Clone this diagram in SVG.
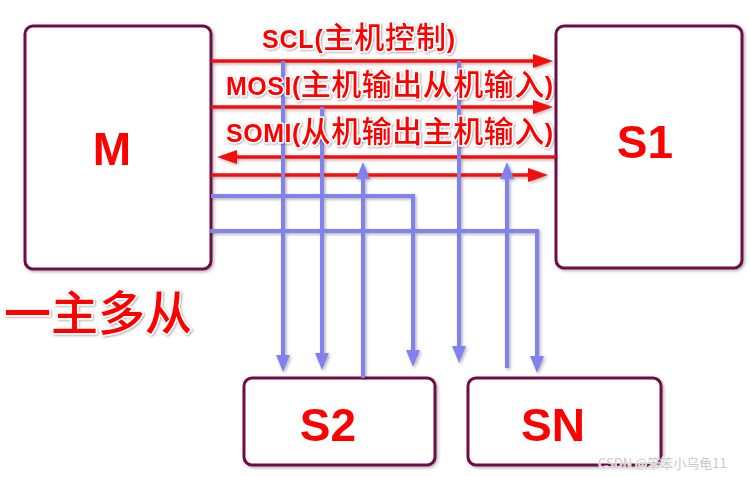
<svg xmlns="http://www.w3.org/2000/svg" width="750" height="477" viewBox="0 0 750 477">
<style>
.box{fill:#fff;stroke:#6e0f48;stroke-width:3}
.lbl{font-family:"Liberation Sans",Arial,sans-serif;font-weight:bold;fill:#f00;stroke:#fff;stroke-width:3;paint-order:stroke;stroke-linejoin:round}
.cjk{font-family:"Noto Sans CJK SC",sans-serif;font-weight:500}
.red{fill:none;stroke:#f41010;stroke-width:3.5}
.blue{fill:none;stroke:#8282ef;stroke-width:4}
.wm{font-family:"Noto Sans CJK SC","Liberation Sans",sans-serif;font-size:13px;fill:#c8c8c8;stroke:#fff;stroke-width:1;paint-order:stroke}
</style>
<defs>
<filter id="sh" x="-20%" y="-20%" width="140%" height="140%"><feDropShadow dx="1.5" dy="1.5" stdDeviation="1.5" flood-color="#000" flood-opacity="0.3"/></filter>
<filter id="tsh" x="-10%" y="-20%" width="120%" height="140%"><feDropShadow dx="1" dy="1" stdDeviation="1" flood-color="#000" flood-opacity="0.35"/></filter>
<marker id="ra" markerUnits="userSpaceOnUse" markerWidth="20" markerHeight="14" refX="14" refY="7" orient="auto"><path d="M0,0 L20,7 L0,14 z" fill="#f41010"/></marker>
<marker id="ba" markerUnits="userSpaceOnUse" markerWidth="17" markerHeight="14" refX="12" refY="7" orient="auto"><path d="M0,0 L17,7 L0,14 z" fill="#8282ef"/></marker>
</defs>
<rect width="750" height="477" fill="#fff"/>
<g id="M" filter="url(#sh)"><rect class="box" x="25" y="26" width="186" height="243" rx="8"/><text class="lbl" x="112" y="165" font-size="46" text-anchor="middle">M</text></g>
<g id="S1" filter="url(#sh)"><rect class="box" x="556" y="26" width="186" height="242" rx="8"/><text class="lbl" x="645" y="158" font-size="46" text-anchor="middle">S1</text></g>
<g id="S2" filter="url(#sh)"><rect class="box" x="244" y="378" width="191" height="87" rx="8"/><text class="lbl" x="328" y="441" font-size="46" text-anchor="middle">S2</text></g>
<g id="SN" filter="url(#sh)"><rect class="box" x="468" y="378" width="193" height="87" rx="8"/><text class="lbl" x="553" y="441" font-size="46" text-anchor="middle">SN</text></g>
<g id="connectors" filter="url(#sh)">
<line class="red" x1="211" y1="61" x2="547" y2="61" marker-end="url(#ra)"/>
<line class="red" x1="211" y1="107" x2="547" y2="107" marker-end="url(#ra)"/>
<line class="red" x1="556" y1="157" x2="223" y2="157" marker-end="url(#ra)"/>
<line class="red" x1="211" y1="175" x2="542" y2="175" marker-end="url(#ra)"/>
<line class="blue" x1="283" y1="61" x2="283" y2="367" marker-end="url(#ba)"/>
<line class="blue" x1="322" y1="107" x2="322" y2="365" marker-end="url(#ba)"/>
<line class="blue" x1="363" y1="378" x2="363" y2="167" marker-end="url(#ba)"/>
<polyline class="blue" points="211,196 413,196 413,362" marker-end="url(#ba)"/>
<line class="blue" x1="459" y1="61" x2="459" y2="358" marker-end="url(#ba)"/>
<line class="blue" x1="507" y1="368" x2="507" y2="167" marker-end="url(#ba)"/>
<polyline class="blue" points="210,231 537,231 537,368" marker-end="url(#ba)"/>
</g>
<g id="labels" filter="url(#tsh)">
<text class="lbl" x="262" y="48" font-size="25" textLength="193"><tspan>SCL(</tspan><tspan class="cjk" font-size="30">主机控制</tspan><tspan>)</tspan></text>
<text class="lbl" x="226" y="95" font-size="25" textLength="327"><tspan>MOSI(</tspan><tspan class="cjk" font-size="30">主机输出从机输入</tspan><tspan>)</tspan></text>
<text class="lbl" x="226" y="142" font-size="25" textLength="327"><tspan>SOMI(</tspan><tspan class="cjk" font-size="30">从机输出主机输入</tspan><tspan>)</tspan></text>
<text class="lbl cjk" x="4" y="330" font-size="47" font-weight="normal" stroke-width="4" textLength="188">一主多从</text>
</g>
<text class="wm" x="598" y="468">CSDN @笨笨小乌龟11</text>
</svg>
